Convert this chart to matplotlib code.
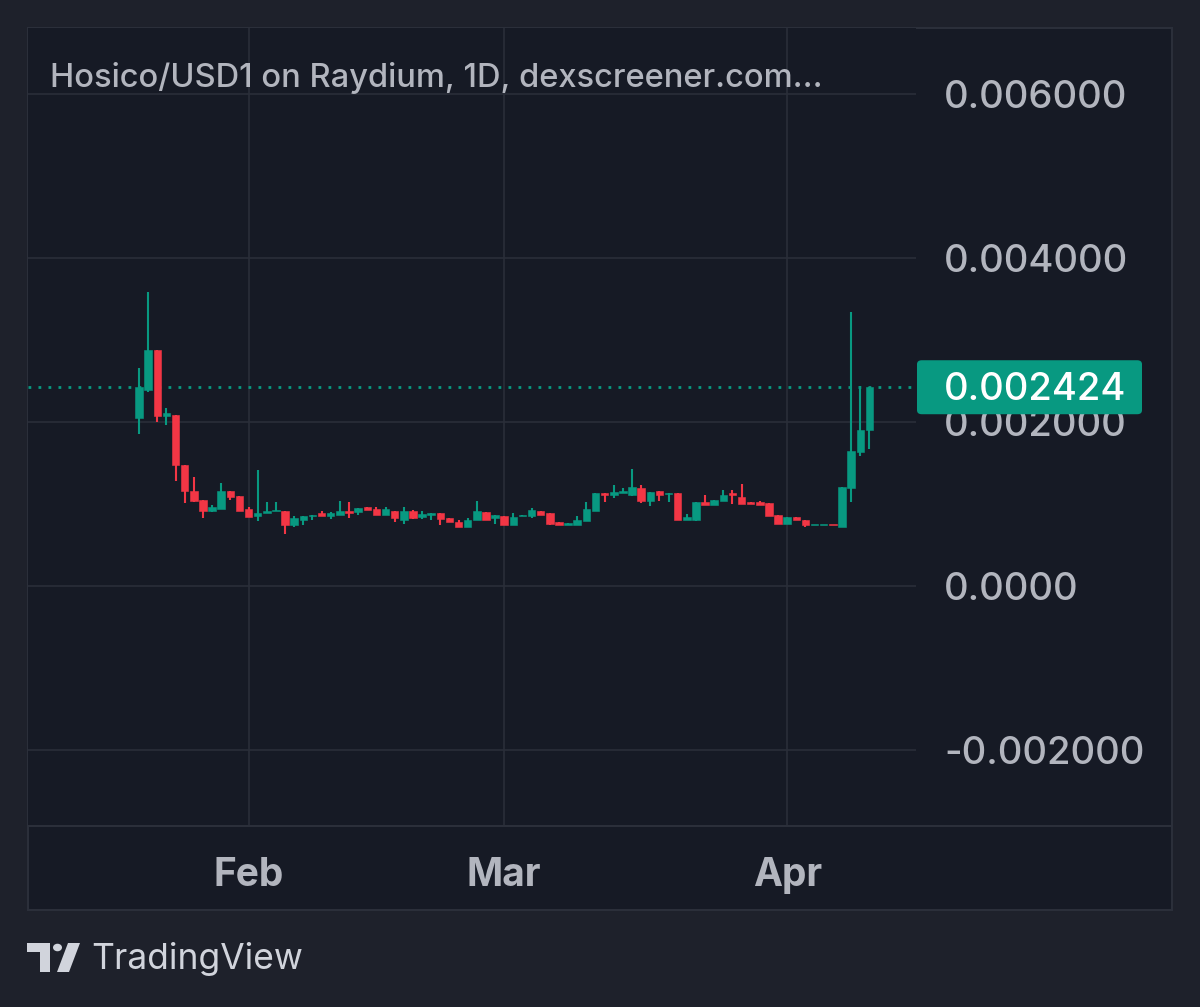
import matplotlib
matplotlib.use("Agg")
import matplotlib.pyplot as plt
import matplotlib.dates as mdates
from matplotlib.patches import Rectangle, FancyBboxPatch, Polygon, Circle
import pandas as pd
import numpy as np

# ---------------- data ----------------
start_date = "2025-01-20"
opens = [0.00205, 0.00239, 0.00288, 0.00207, 0.00209, 0.00148, 0.00116, 0.00105, 0.00092, 0.00094,
         0.00116, 0.00110, 0.00094, 0.00085, 0.00089, 0.00091, 0.00092, 0.00074, 0.00080, 0.00085,
         0.00089, 0.00085, 0.00086, 0.00092, 0.00090, 0.00096, 0.00094, 0.00087, 0.00091, 0.00080,
         0.00091, 0.00084, 0.00086, 0.00089, 0.00083, 0.00078, 0.00072, 0.00080, 0.00090, 0.00083,
         0.00085, 0.00075, 0.00085, 0.00085, 0.00091, 0.00089, 0.00078, 0.00074, 0.00075, 0.00079,
         0.00092, 0.00114, 0.00111, 0.00113, 0.00111, 0.00120, 0.00104, 0.00116, 0.00112, 0.00113,
         0.00080, 0.00081, 0.00103, 0.00099, 0.00104, 0.00113, 0.00108, 0.00102, 0.00102, 0.00101,
         0.00086, 0.00076, 0.00084, 0.00080, 0.00074, 0.00074, 0.00075, 0.00072, 0.00120, 0.00164,
         0.00190]
highs = [0.00266, 0.00359, 0.00288, 0.00217, 0.00209, 0.00148, 0.00133, 0.00105, 0.00099, 0.00126,
         0.00116, 0.00110, 0.00096, 0.00141, 0.00102, 0.00102, 0.00092, 0.00085, 0.00085, 0.00087,
         0.00091, 0.00090, 0.00104, 0.00103, 0.00095, 0.00096, 0.00096, 0.00096, 0.00091, 0.00096,
         0.00093, 0.00091, 0.00089, 0.00089, 0.00083, 0.00080, 0.00083, 0.00104, 0.00090, 0.00087,
         0.00085, 0.00089, 0.00087, 0.00095, 0.00091, 0.00089, 0.00078, 0.00077, 0.00085, 0.00102,
         0.00114, 0.00114, 0.00123, 0.00119, 0.00143, 0.00123, 0.00115, 0.00116, 0.00114, 0.00113,
         0.00088, 0.00103, 0.00111, 0.00105, 0.00117, 0.00117, 0.00124, 0.00102, 0.00104, 0.00101,
         0.00086, 0.00084, 0.00084, 0.00080, 0.00075, 0.00075, 0.00075, 0.00121, 0.00334, 0.00244,
         0.002424]
lows = [0.00185, 0.00236, 0.00200, 0.00196, 0.00128, 0.00101, 0.00102, 0.00083, 0.00090, 0.00094,
        0.00105, 0.00092, 0.00084, 0.00079, 0.00089, 0.00091, 0.00063, 0.00072, 0.00074, 0.00081,
        0.00085, 0.00082, 0.00086, 0.00083, 0.00086, 0.00093, 0.00086, 0.00087, 0.00078, 0.00076,
        0.00082, 0.00082, 0.00080, 0.00074, 0.00078, 0.00072, 0.00072, 0.00080, 0.00081, 0.00076,
        0.00075, 0.00075, 0.00085, 0.00083, 0.00086, 0.00075, 0.00075, 0.00074, 0.00075, 0.00079,
        0.00092, 0.00102, 0.00107, 0.00113, 0.00110, 0.00101, 0.00098, 0.00104, 0.00103, 0.00080,
        0.00080, 0.00079, 0.00099, 0.00099, 0.00104, 0.00100, 0.00100, 0.00100, 0.00099, 0.00085,
        0.00076, 0.00076, 0.00080, 0.00072, 0.00074, 0.00074, 0.00074, 0.00072, 0.00102, 0.00158,
        0.00167]
closes = [0.00243, 0.00288, 0.00207, 0.00211, 0.00148, 0.00116, 0.00104, 0.00091, 0.00096, 0.00116,
          0.00109, 0.00092, 0.00084, 0.00089, 0.00091, 0.00093, 0.00074, 0.00083, 0.00085, 0.00087,
          0.00085, 0.00089, 0.00091, 0.00089, 0.00095, 0.00093, 0.00087, 0.00094, 0.00083, 0.00091,
          0.00083, 0.00088, 0.00089, 0.00082, 0.00078, 0.00072, 0.00080, 0.00091, 0.00081, 0.00087,
          0.00075, 0.00084, 0.00087, 0.00093, 0.00087, 0.00076, 0.00075, 0.00077, 0.00080, 0.00094,
          0.00114, 0.00111, 0.00115, 0.00116, 0.00121, 0.00104, 0.00115, 0.00111, 0.00114, 0.00080,
          0.00084, 0.00103, 0.00099, 0.00105, 0.00111, 0.00111, 0.00100, 0.00100, 0.00099, 0.00085,
          0.00076, 0.00084, 0.00080, 0.00074, 0.00075, 0.00075, 0.00074, 0.00121, 0.00165, 0.00190,
          0.002424]
last_price = 0.002424
last_label = "0.002424"
ytick_values = [0.006, 0.004, 0.002, 0.0, -0.002]
ytick_labels = ["0.006000", "0.004000", "0.002000", "0.0000", "-0.002000"]
month_ticks = ["2025-02-01", "2025-03-01", "2025-04-01"]
month_labels = ["Feb", "Mar", "Apr"]
title_text = "Hosico/USD1 on Raydium, 1D, dexscreener.com..."
brand_text = "TradingView"

# ---------------- style ----------------
W, H = 1200, 1007
OUTER_BG = "#1e212b"
PANEL_BG = "#161a25"
GRID = "#2a2e39"
TEXT = "#b2b5be"
UP = "#089981"
DOWN = "#f23645"
FONT = ["Inter", "DejaVu Sans"]

fig = plt.figure(figsize=(W / 100, H / 100), dpi=100, facecolor=OUTER_BG)


def fx(px):
    return px / W


def fy(py):
    return 1 - py / H


# panel
fig.patches.append(Rectangle((fx(28), fy(910)), fx(1172) - fx(28), fy(28) - fy(910),
                             transform=fig.transFigure, facecolor=PANEL_BG,
                             edgecolor="#2b2f3a", lw=1.5, zorder=-10))

# main axes: pixel area x 28..916, y 28..826
ax = fig.add_axes([fx(28), fy(826), fx(916) - fx(28), fy(28) - fy(826)])
ax.set_zorder(1)
ax.set_facecolor(PANEL_BG)
for s in ax.spines.values():
    s.set_visible(False)

dates = pd.date_range(start_date, periods=len(opens), freq="D")
xd = mdates.date2num(dates)
ppx = 0.002 / 164.0
ax.set_ylim(-240 * ppx, 558 * ppx)
d0 = mdates.date2num(pd.Timestamp(start_date))
ax.set_xlim(d0 - 111 / 9.13, d0 + 777 / 9.13)
ax.set_xticks([])
ax.set_yticks([])

# grid
for v in ytick_values:
    ax.axhline(v, color=GRID, lw=1.2, zorder=1)
for m in month_ticks:
    ax.axvline(mdates.date2num(pd.Timestamp(m)), color=GRID, lw=1.2, zorder=1)

# candles
o = np.array(opens); h = np.array(highs); l = np.array(lows); c = np.array(closes)
cols = [UP if cc >= oo else DOWN for oo, cc in zip(o, c)]
ax.vlines(xd, l, h, colors=cols, lw=1.5, zorder=3)
bottoms = np.minimum(o, c)
heights = np.maximum(np.abs(c - o), 0.00002)
ax.bar(xd, heights, bottom=bottoms, width=0.82, color=cols, edgecolor=cols, lw=0.4, zorder=4)

# last price dotted line
ax.axhline(last_price, color=UP, lw=2.0, linestyle=(0, (1, 2.6)), zorder=2)

# separator line under plot
fig.lines.append(plt.Line2D([fx(28), fx(1172)], [fy(826), fy(826)], transform=fig.transFigure,
                            color="#2b2f3a", lw=1.5, zorder=2))

# title
fig.text(fx(50), fy(78), title_text, color=TEXT, fontsize=23.5, family=FONT,
         ha="left", va="center", fontweight="medium", zorder=3)

# y tick labels
for v, lab in zip(ytick_values, ytick_labels):
    ypx = 586 - v / ppx
    fig.text(fx(944), fy(ypx + 4), lab, color=TEXT, fontsize=27.5, family=FONT,
             ha="left", va="center", fontweight="medium", zorder=3)

# last price tag
ylast = 586 - last_price / ppx
box = FancyBboxPatch((fx(917), fy(ylast + 27)), fx(1142) - fx(917), fy(ylast - 27) - fy(ylast + 27),
                     boxstyle="round,pad=0,rounding_size=0.004", transform=fig.transFigure,
                     facecolor=UP, edgecolor="none", zorder=5)
fig.patches.append(box)
fig.text(fx(944), fy(ylast + 3), last_label, color="white", fontsize=27.5, family=FONT,
         ha="left", va="center", fontweight="medium", zorder=6)

# month labels
for m, lab in zip(month_ticks, month_labels):
    xm = mdates.date2num(pd.Timestamp(m))
    xpx = 28 + (xm - ax.get_xlim()[0]) / (ax.get_xlim()[1] - ax.get_xlim()[0]) * 888
    fig.text(fx(xpx), fy(875), lab, color=TEXT, fontsize=28, family=FONT,
             fontweight="bold", ha="center", va="center", zorder=3)

# TradingView logo
LOGO = "#d1d4dc"
fig.patches.append(Polygon([(fx(27), fy(943)), (fx(50), fy(943)), (fx(50), fy(972)),
                            (fx(40), fy(972)), (fx(40), fy(952)), (fx(27), fy(952))],
                           closed=True, transform=fig.transFigure, facecolor=LOGO, edgecolor="none"))
fig.patches.append(Circle((fx(57.5), fy(947.5)), 4.5 / W, transform=fig.transFigure,
                          facecolor=LOGO, edgecolor="none"))
fig.patches.append(Polygon([(fx(68), fy(943)), (fx(80), fy(943)), (fx(69), fy(972)), (fx(57), fy(972))],
                           closed=True, transform=fig.transFigure, facecolor=LOGO, edgecolor="none"))
fig.text(fx(91), fy(959), brand_text, color=LOGO, fontsize=25.5, family=FONT,
         ha="left", va="center")

fig.savefig("out.png", dpi=100, facecolor=OUTER_BG)
